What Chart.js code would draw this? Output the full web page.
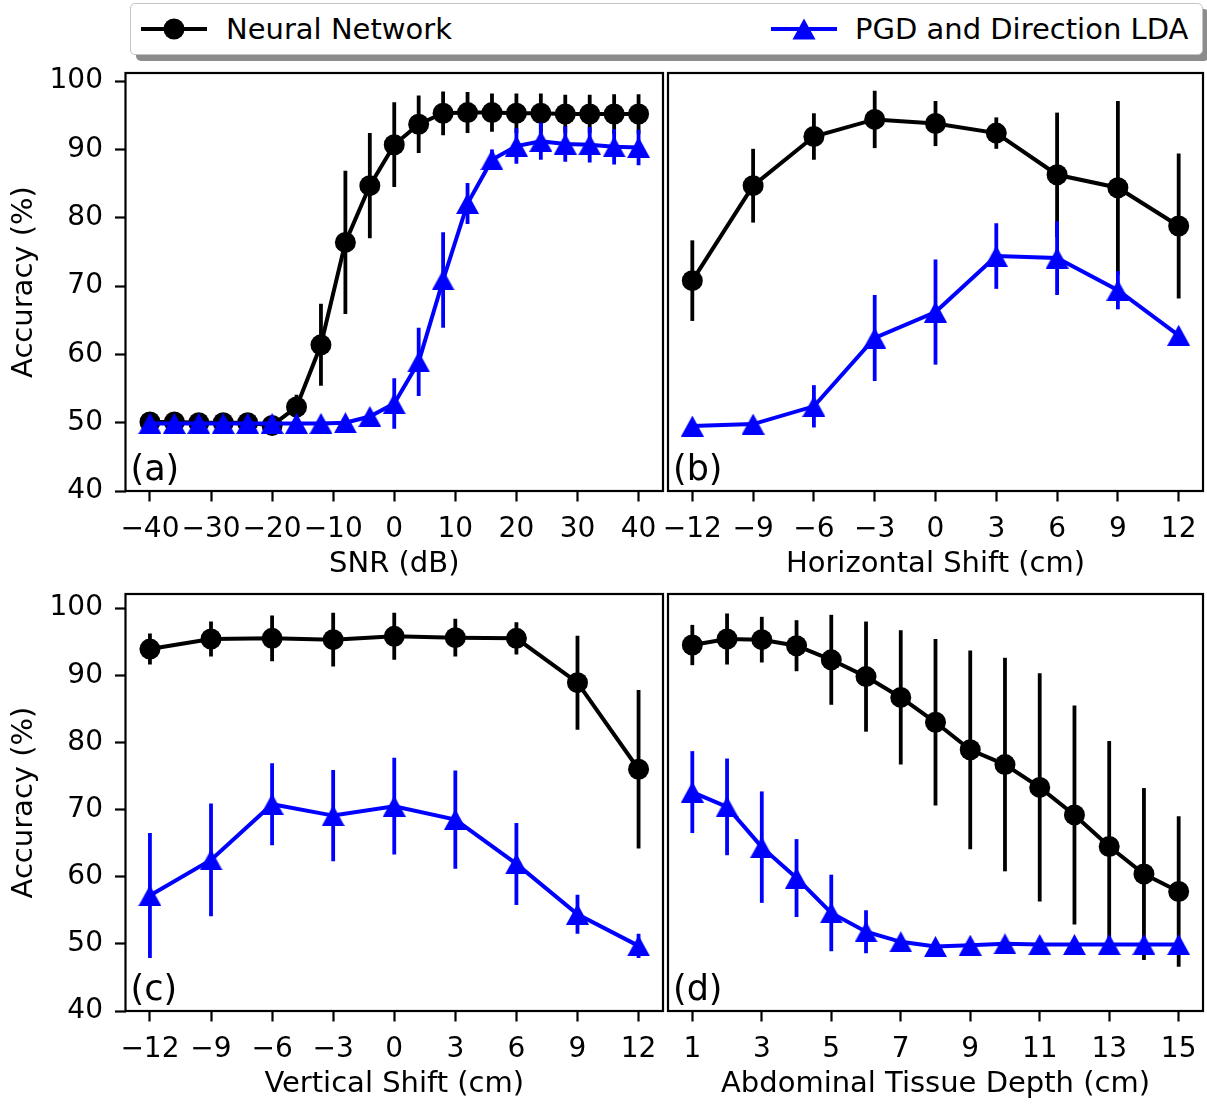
<!DOCTYPE html>
<html>
<head>
<meta charset="utf-8">
<script src="https://cdn.jsdelivr.net/npm/chart.js@4.4.0/dist/chart.umd.min.js"></script>
<style>
  html, body { margin:0; padding:0; background:#fff; overflow:hidden; }
  #fig { position:relative; width:1207px; height:1104px; font-family:"DejaVu Sans", sans-serif; }
  .panel { position:absolute; }
  #legend { position:absolute; left:130px; top:3px; width:1071px; height:50px; border:1px solid #c4c4c4;
            border-radius:5px; background:#fff; box-shadow:6px 6px 0 rgba(0,0,0,0.45); }
  .handle { position:absolute; top:13px; }
  .entry { position:absolute; top:0; height:50px; line-height:50px; font-size:29px; color:#000; white-space:nowrap; }
</style>
</head>
<body>
<div id="fig">
  <div id="legend">
    <svg class="handle" style="left:10px" width="66" height="24">
      <line x1="0" y1="12" x2="66" y2="12" stroke="#000" stroke-width="4"/>
      <circle cx="33" cy="12" r="10.5" fill="#000"/>
    </svg>
    <div class="entry" style="left:95px">Neural Network</div>
    <svg class="handle" style="left:640px" width="66" height="24">
      <line x1="0" y1="12" x2="66" y2="12" stroke="#0000ff" stroke-width="4"/>
      <polygon points="33,1.5 21.5,22.5 44.5,22.5" fill="#0000ff"/>
    </svg>
    <div class="entry" style="left:724px">PGD and Direction LDA</div>
  </div>
  <canvas id="chartA" class="panel" width="666" height="526" style="left:0;top:58px"></canvas>
  <canvas id="chartB" class="panel" width="547" height="526" style="left:660px;top:58px"></canvas>
  <canvas id="chartC" class="panel" width="666" height="524" style="left:0;top:580px"></canvas>
  <canvas id="chartD" class="panel" width="547" height="524" style="left:660px;top:580px"></canvas>
</div>
<script>
// ---------------------------
// Data
// ---------------------------
const accTicks = [40, 50, 60, 70, 80, 90, 100];

// (a) SNR
const snrX      = [-40,-36,-32,-28,-24,-20,-16,-12,-8,-4,0,4,8,12,16,20,24,28,32,36,40];
const snrNN     = [50.1,50.1,50.0,50.0,50.0,49.6,52.3,61.4,76.4,84.7,90.7,93.7,95.3,95.4,95.4,95.3,95.3,95.2,95.2,95.2,95.2];
const snrNNErr  = [0.5,0.5,0.5,0.5,0.5,0.8,1.8,6.0,10.5,7.7,6.2,4.2,3.2,3.0,2.8,2.9,2.9,2.8,2.8,2.9,2.9];
const snrLDA    = [49.9,49.9,49.9,49.9,49.9,49.9,49.9,49.9,50.0,50.9,52.8,58.9,70.9,82.1,88.5,90.5,91.2,90.8,90.7,90.4,90.3];
const snrLDAErr = [0.3,0.3,0.3,0.3,0.3,0.3,0.3,0.3,0.5,1.0,3.7,5.0,7.0,3.0,1.5,2.6,2.7,2.6,2.6,2.6,2.6];
const snrTicks  = [-40,-30,-20,-10,0,10,20,30,40];

// (b) horizontal shift
const hX        = [-12,-9,-6,-3,0,3,6,9,12];
const hNN       = [70.8,84.7,91.9,94.4,93.8,92.4,86.3,84.4,78.8];
const hNNErr    = [5.9,5.4,3.4,4.2,3.3,2.3,9.1,12.7,10.6];
const hLDA      = [49.5,49.8,52.4,62.4,66.2,74.4,74.1,69.4,62.8];
const hLDAErr   = [0.4,0.4,3.1,6.3,7.7,4.8,5.4,2.8,0.6];
const shiftTicks = [-12,-9,-6,-3,0,3,6,9,12];

// (c) vertical shift
const vX        = [-12,-9,-6,-3,0,3,6,9,12];
const vNN       = [93.9,95.4,95.5,95.3,95.8,95.6,95.5,88.9,76.0];
const vNNErr    = [2.3,2.6,3.4,4.0,3.5,2.8,2.4,7.0,11.8];
const vLDA      = [57.2,62.5,70.8,69.1,70.5,68.5,61.9,54.4,49.7];
const vLDAErr   = [9.3,8.4,6.1,6.8,7.2,7.3,6.1,2.9,1.8];

// (d) abdominal tissue depth
const dX        = [1,2,3,4,5,6,7,8,9,10,11,12,13,14,15];
const dNN       = [94.5,95.4,95.3,94.4,92.3,89.8,86.7,83.0,78.9,76.7,73.3,69.2,64.5,60.4,57.8];
const dNNErr    = [3.0,3.8,3.4,3.8,6.7,8.2,10.0,12.4,14.8,15.9,17.0,16.3,15.7,12.8,11.2];
const dLDA      = [72.6,70.4,64.4,59.8,54.6,51.8,50.3,49.6,49.8,50.0,49.9,49.9,49.9,49.9,49.9];
const dLDAErr   = [6.1,7.2,8.3,5.8,5.7,3.2,0.6,0.4,0.4,0.4,0.4,0.4,0.4,0.4,0.4];
const depthTicks = [1,3,5,7,9,11,13,15];

// ---------------------------
// Styling helpers
// ---------------------------
const FONT = '"DejaVu Sans", sans-serif';
const BLUE = '#0000ff';
const fmt = v => v < 0 ? '\u2212' + Math.abs(v) : String(v);

function makeTriangle(color){
  const c = document.createElement('canvas');
  c.width = 23; c.height = 21;
  const g = c.getContext('2d');
  g.fillStyle = color;
  g.beginPath(); g.moveTo(11.5, 0); g.lineTo(23, 21); g.lineTo(0, 21); g.closePath(); g.fill();
  return c;
}
const triangle = makeTriangle(BLUE);

// error bars drawn right before each dataset's line, frame + panel letter after
const errorBars = {
  id: 'errorBars',
  beforeDatasetDraw(chart, args){
    const ds = chart.data.datasets[args.index];
    if (!ds.errors) return;
    const { ctx, chartArea:a, scales:{ x, y } } = chart;
    ctx.save();
    ctx.beginPath(); ctx.rect(a.left, a.top, a.right - a.left, a.bottom - a.top); ctx.clip();
    ctx.strokeStyle = ds.borderColor; ctx.lineWidth = 3.8;
    ds.data.forEach((p, i) => {
      const px = x.getPixelForValue(p.x);
      ctx.beginPath();
      ctx.moveTo(px, y.getPixelForValue(p.y - ds.errors[i]));
      ctx.lineTo(px, y.getPixelForValue(p.y + ds.errors[i]));
      ctx.stroke();
    });
    ctx.restore();
  },
  afterDatasetsDraw(chart, args, opts){
    const { ctx, chartArea:a } = chart;
    ctx.save();
    ctx.strokeStyle = '#000'; ctx.lineWidth = 2.2;
    ctx.strokeRect(a.left, a.top, a.right - a.left, a.bottom - a.top);
    ctx.fillStyle = '#000'; ctx.font = '35px ' + FONT;
    ctx.textBaseline = 'alphabetic'; ctx.textAlign = 'left';
    ctx.fillText(opts.letter, a.left + 5, a.bottom - 11);
    ctx.restore();
  }
};

function panelChart(id, p){
  const pts = (xs, ys) => xs.map((v, i) => ({ x:v, y:ys[i] }));
  return new Chart(document.getElementById(id), {
    type: 'line',
    data: { datasets: [
      { label:'Neural Network', data:pts(p.x, p.nn), errors:p.nnErr, order:1,
        borderColor:'#000', backgroundColor:'#000', borderWidth:4,
        pointStyle:'circle', pointRadius:10.5, pointBorderWidth:0 },
      { label:'PGD and Direction LDA', data:pts(p.x, p.lda), errors:p.ldaErr, order:0,
        borderColor:BLUE, backgroundColor:BLUE, borderWidth:4,
        pointStyle:triangle, pointRadius:11 }
    ]},
    options: {
      responsive:false, animation:false, events:[],
      layout: { padding: p.pad, autoPadding:false },
      plugins: { legend:{ display:false }, tooltip:{ enabled:false }, errorBars:{ letter:p.letter } },
      elements: { line:{ tension:0 } },
      scales: {
        x: {
          type:'linear', min:p.xMin, max:p.xMax,
          afterBuildTicks: s => { s.ticks = p.ticks.map(v => ({ value:v })); },
          afterFit: s => { s.height = 93; s.paddingLeft = 0; s.paddingRight = 0; },
          grid: { display:true, drawOnChartArea:false, drawTicks:true, tickLength:10.5, tickWidth:2.2, tickColor:'#000' },
          border: { display:false },
          ticks: { color:'#000', font:{ family:FONT, size:28 }, padding:11, autoSkip:false, maxRotation:0, minRotation:0, callback:fmt },
          title: { display:true, text:p.xTitle, color:'#000', font:{ family:FONT, size:29 }, padding:{ top:0, bottom:2 } }
        },
        y: {
          display:p.showY, min:40, max:p.yMax,
          afterBuildTicks: s => { s.ticks = accTicks.map(v => ({ value:v })); },
          afterFit: s => { s.width = p.showY ? 125.5 : 0; s.paddingTop = 0; s.paddingBottom = 0; },
          grid: { display:true, drawOnChartArea:false, drawTicks:true, tickLength:10.5, tickWidth:2.2, tickColor:'#000' },
          border: { display:false },
          ticks: { color:'#000', font:{ family:FONT, size:28 }, padding:12, callback:fmt },
          title: { display:true, text:'Accuracy (%)', color:'#000', font:{ family:FONT, size:29 }, padding:{ top:7, bottom:0 } }
        }
      }
    },
    plugins: [errorBars]
  });
}

panelChart('chartA', { x:snrX, nn:snrNN, nnErr:snrNNErr, lda:snrLDA, ldaErr:snrLDAErr,
  xMin:-44, xMax:44, yMax:101.2, ticks:snrTicks, xTitle:'SNR (dB)', letter:'(a)', showY:true,
  pad:{ top:15, right:3, bottom:0, left:0 } });
panelChart('chartB', { x:hX, nn:hNN, nnErr:hNNErr, lda:hLDA, ldaErr:hLDAErr,
  xMin:-13.2, xMax:13.2, yMax:101.2, ticks:shiftTicks, xTitle:'Horizontal Shift (cm)', letter:'(b)', showY:false,
  pad:{ top:15, right:4, bottom:0, left:8 } });
panelChart('chartC', { x:vX, nn:vNN, nnErr:vNNErr, lda:vLDA, ldaErr:vLDAErr,
  xMin:-13.2, xMax:13.2, yMax:102.1, ticks:shiftTicks, xTitle:'Vertical Shift (cm)', letter:'(c)', showY:true,
  pad:{ top:14, right:3, bottom:0, left:0 } });
panelChart('chartD', { x:dX, nn:dNN, nnErr:dNNErr, lda:dLDA, ldaErr:dLDAErr,
  xMin:0.3, xMax:15.7, yMax:102.1, ticks:depthTicks, xTitle:'Abdominal Tissue Depth (cm)', letter:'(d)', showY:false,
  pad:{ top:14, right:4, bottom:0, left:8 } });
</script>
</body>
</html>
